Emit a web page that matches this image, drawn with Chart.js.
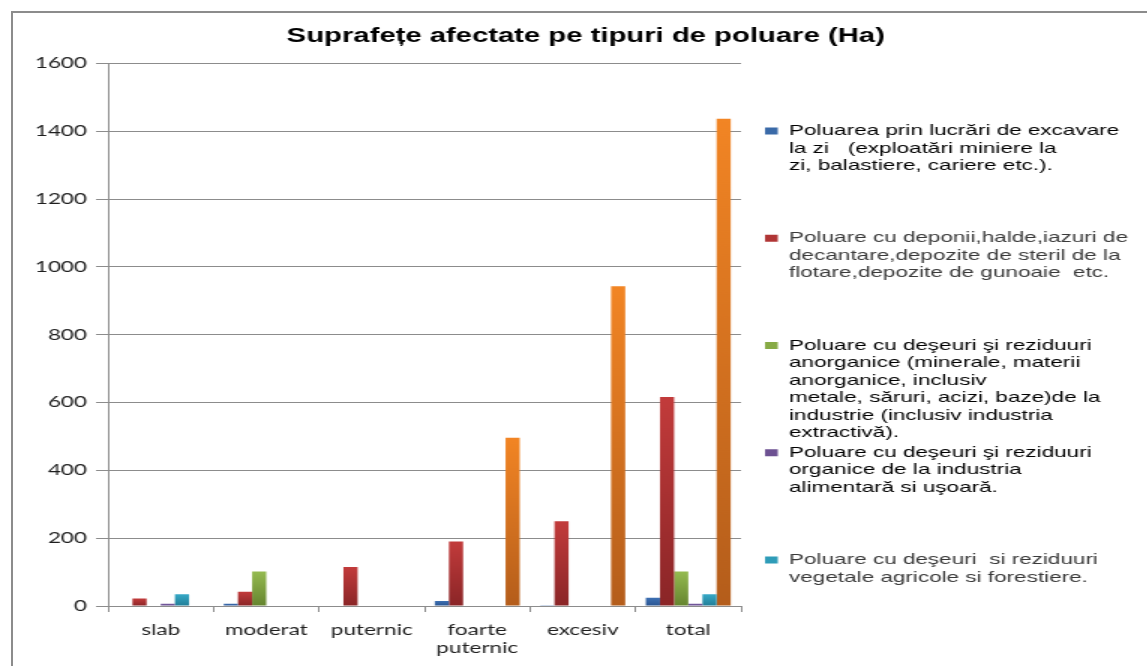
<!DOCTYPE html>
<html>
<head>
<meta charset="utf-8">
<script src="https://cdn.jsdelivr.net/npm/chart.js@4"></script>
<style>
  html, body { margin: 0; padding: 0; background: #ffffff; overflow: hidden; }
  #frame { position: absolute; left: 11px; top: 11px; width: 1300px; height: 800px;
           border: 2px solid #8c8c8c; box-sizing: border-box; }
  #wrap { position: absolute; left: 0; top: 0; width: 765px; height: 666px;
          transform: scaleX(1.5); transform-origin: 0 0; }
</style>
</head>
<body>
<div id="frame"></div>
<div id="wrap"><canvas id="c"></canvas></div>
<script>
// ---- data ----
const categories = ['slab', 'moderat', 'puternic', ['foarte', 'puternic'], 'excesiv', 'total'];
const excavare   = [null, 7, null, 15, 2, 24];
const deponii    = [22, 42, 115, 190, 250, 616];
const anorganice = [null, 102, null, null, null, 102];
const organice   = [7, null, null, null, null, 7];
const vegetale   = [35, null, null, null, null, 35];
const totalSerie = [null, null, null, 496, 943, 1437];
const yMin = 0, yMax = 1600, yStep = 200;

const titleText = 'Suprafețe afectate pe tipuri de poluare (Ha)';
const legendExcavare = ['Poluarea prin lucrări de excavare', 'la zi   (exploatări miniere la', 'zi, balastiere, cariere etc.).'];
const legendDeponii = ['Poluare cu deponii,halde,iazuri de', 'decantare,depozite de steril de la', 'flotare,depozite de gunoaie  etc.'];
const legendAnorganice = ['Poluare cu deşeuri şi reziduuri', 'anorganice (minerale, materii', 'anorganice, inclusiv', 'metale, săruri, acizi, baze)de la', 'industrie (inclusiv industria', 'extractivă).'];
const legendOrganice = ['Poluare cu deşeuri şi reziduuri', 'organice de la industria', 'alimentară si uşoară.'];
const legendVegetale = ['Poluare cu deşeuri  si reziduuri', 'vegetale agricole si forestiere.'];
const legendTotal = ['Total'];

// ---- styles ----
function grad(top, bottom) {
  return (ctx) => {
    const chart = ctx.chart;
    const ys = chart.scales && chart.scales.y;
    if (!ys || ctx.type !== 'data' || ctx.raw == null) return bottom;
    const y0 = ys.getPixelForValue(ctx.raw);
    const y1 = ys.getPixelForValue(0);
    if (!(y1 > y0)) return bottom;
    const g = chart.ctx.createLinearGradient(0, y0, 0, y1);
    g.addColorStop(0, top);
    g.addColorStop(1, bottom);
    return g;
  };
}
const seriesStyles = [
  { top: '#3d70b3', bottom: '#2a5490', box: '#3a6aa8', text: '#000000' },
  { top: '#c23b3b', bottom: '#8a2527', box: '#b03535', text: '#3a3a3a' },
  { top: '#95bb50', bottom: '#65842f', box: '#87aa45', text: '#000000' },
  { top: '#7d60a7', bottom: '#5c4483', box: '#6d5192', text: '#000000' },
  { top: '#36a9c7', bottom: '#227e97', box: '#2e9cb8', text: '#3a3a3a' },
  { top: '#f28524', bottom: '#b45d1b', box: '#e97d22', text: '#000000' }
];
const seriesData = [excavare, deponii, anorganice, organice, vegetale, totalSerie];
const seriesLabels = [legendExcavare, legendDeponii, legendAnorganice, legendOrganice, legendVegetale, legendTotal];
const legendCount = 5;
const legendLinesPerItem = 6;

const datasets = seriesData.map((d, i) => ({
  label: seriesLabels[i].join(' '),
  data: d,
  backgroundColor: grad(seriesStyles[i].top, seriesStyles[i].bottom),
  borderWidth: 0,
  categoryPercentage: 0.805,
  barPercentage: 1.0
}));

const gridGray = '#8c8c8c';

new Chart(document.getElementById('c'), {
  type: 'bar',
  data: { labels: categories, datasets },
  options: {
    responsive: true,
    maintainAspectRatio: false,
    animation: false,
    layout: { padding: { top: 14, left: 24, right: 8, bottom: 0 } },
    plugins: {
      tooltip: { enabled: false },
      title: {
        display: true,
        text: titleText,
        color: '#000000',
        font: { family: 'Liberation Sans', size: 19.5, weight: 'bold', lineHeight: 1.2 },
        padding: { top: 11, bottom: 15 }
      },
      legend: {
        display: true,
        position: 'right',
        align: 'start',
        fullSize: false,
        maxWidth: 249,
        title: { display: true, text: '', padding: { top: 46, bottom: 0 }, font: { size: 12, lineHeight: 1 } },
        labels: {
          font: { family: 'Liberation Sans', size: 15, lineHeight: 1.17 },
          boxWidth: 8.5,
          boxHeight: 7,
          padding: 2,
          generateLabels: (chart) => chart.data.datasets.slice(0, legendCount).map((ds, i) => {
            const lines = seriesLabels[i].slice();
            if (i < legendCount - 1) while (lines.length < legendLinesPerItem) lines.push('');
            return {
              text: lines,
              fillStyle: seriesStyles[i].box,
              strokeStyle: seriesStyles[i].box,
              lineWidth: 0,
              fontColor: seriesStyles[i].text,
              hidden: false,
              datasetIndex: i
            };
          })
        }
      }
    },
    scales: {
      x: {
        grid: { offset: true, drawOnChartArea: false, drawTicks: true, tickLength: 6, color: gridGray },
        border: { display: true, color: gridGray },
        ticks: {
          autoSkip: false, maxRotation: 0, padding: 9, color: '#1e1e1e',
          font: { family: 'Lato', size: 15, lineHeight: 1.2 }
        }
      },
      y: {
        min: yMin, max: yMax,
        grid: { color: gridGray, tickLength: 8 },
        border: { display: true, color: gridGray },
        ticks: {
          stepSize: yStep, padding: 6, color: '#1e1e1e',
          font: { family: 'Lato', size: 15 },
          callback: (v) => String(v)
        },
        afterFit: (s) => { s.width = 48; }
      },
      yPad: {
        type: 'linear', position: 'right', display: true,
        grid: { display: false, drawTicks: false },
        border: { display: false },
        ticks: { display: false },
        afterFit: (s) => { s.width = 14; }
      }
    }
  }
});
</script>
</body>
</html>
